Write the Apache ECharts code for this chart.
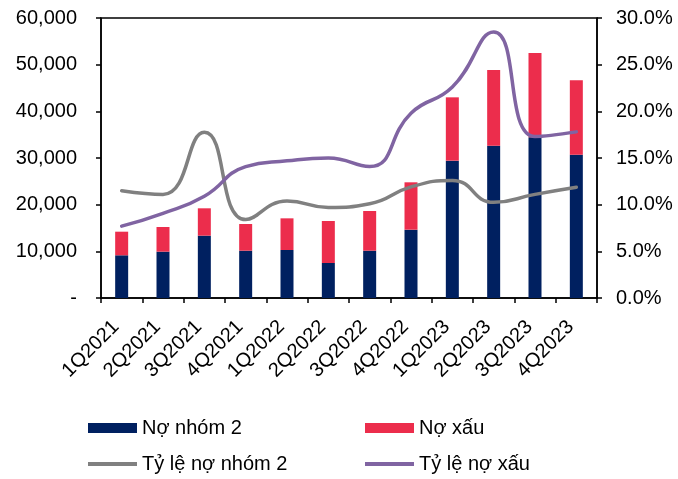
<!DOCTYPE html>
<html>
<head>
<meta charset="utf-8">
<script src="https://cdn.jsdelivr.net/npm/echarts@6/dist/echarts.min.js"></script>
<style>
  html, body { margin: 0; padding: 0; background: #fff; }
  #chart { width: 678px; height: 479px; }
</style>
</head>
<body>
<div id="chart"></div>
<script>
// quý
const categories = ['1Q2021', '2Q2021', '3Q2021', '4Q2021', '1Q2022', '2Q2022',
  '3Q2022', '4Q2022', '1Q2023', '2Q2023', '3Q2023', '4Q2023'];
// nợ nhóm 2 (cột dưới)
const noNhom2 = [9150, 9930, 13360, 10140, 10290, 7500, 10140, 14640, 29430, 32640, 34430, 30710];
// nợ xấu (cột trên, xếp chồng)
const noXau = [5060, 5285, 5860, 5720, 6780, 9000, 8500, 10150, 13570, 16220, 18070, 15930];
// tỷ lệ (%)
const tyLeNhom2 = [11.5, 11.1, 17.75, 8.4, 10.4, 9.7, 10.1, 11.9, 12.6, 10.25, 11.1, 11.86];
const tyLeXau = [7.7, 9.07, 10.9, 14.07, 14.7, 15.0, 14.1, 19.8, 22.6, 28.5, 17.3, 17.8];

const FONT = 'Liberation Sans';
const lineIcon = 'path://M0,0 L49,0 L49,4 L0,4 Z';

function legendAt(left, top, name, icon) {
  return {
    left: left, top: top, padding: 0,
    itemWidth: 49, itemHeight: 10,
    textStyle: { fontFamily: FONT, fontSize: 20, color: '#000' },
    data: [{ name: name, icon: icon }]
  };
}

let myChart = echarts.init(document.getElementById('chart'));
myChart.setOption({
  animation: false,
  textStyle: { fontFamily: FONT, color: '#000' },
  grid: {
    left: 101, right: 81, top: 18, bottom: 181,
    show: true, borderColor: '#000', borderWidth: 1.5
  },
  legend: [
    legendAt(88, 418, 'Nợ nhóm 2', 'rect'),
    legendAt(365, 418, 'Nợ xấu', 'rect'),
    legendAt(88, 454, 'Tỷ lệ nợ nhóm 2', lineIcon),
    legendAt(365, 454, 'Tỷ lệ nợ xấu', lineIcon)
  ],
  xAxis: {
    type: 'category',
    data: categories,
    axisLine: { lineStyle: { color: '#000', width: 1.5 } },
    axisTick: { show: true, length: 5, lineStyle: { color: '#000', width: 1.5 } },
    axisLabel: {
      rotate: 45, fontSize: 20, color: '#000', fontFamily: FONT,
      margin: 20, interval: 0, padding: [0, 8, 0, 0]
    }
  },
  yAxis: [
    {
      type: 'value', min: 0, max: 60000, interval: 10000,
      splitLine: { show: false },
      axisLine: { show: true, lineStyle: { color: '#000', width: 1.5 } },
      axisTick: { show: true, length: 5, lineStyle: { color: '#000', width: 1.5 } },
      axisLabel: {
        fontSize: 20, color: '#000', fontFamily: FONT, margin: 24,
        formatter: v => v === 0 ? '-' : v.toLocaleString('en-US')
      }
    },
    {
      type: 'value', min: 0, max: 30, interval: 5,
      splitLine: { show: false },
      axisLine: { show: true, lineStyle: { color: '#000', width: 1.5 } },
      axisTick: { show: true, length: 5, lineStyle: { color: '#000', width: 1.5 } },
      axisLabel: {
        fontSize: 20, color: '#000', fontFamily: FONT, margin: 19,
        formatter: v => v.toFixed(1) + '%'
      }
    }
  ],
  series: [
    {
      name: 'Nợ nhóm 2', type: 'bar', stack: 'no', data: noNhom2,
      barWidth: 13, color: '#002060', itemStyle: { color: '#002060' }
    },
    {
      name: 'Nợ xấu', type: 'bar', stack: 'no', data: noXau,
      barWidth: 13, color: '#EC2D4C', itemStyle: { color: '#EC2D4C' }
    },
    {
      name: 'Tỷ lệ nợ nhóm 2', type: 'line', yAxisIndex: 1, data: tyLeNhom2,
      smooth: 0.5, showSymbol: false, color: '#808080',
      lineStyle: { color: '#808080', width: 3.5, cap: 'round' }
    },
    {
      name: 'Tỷ lệ nợ xấu', type: 'line', yAxisIndex: 1, data: tyLeXau,
      smooth: 0.5, showSymbol: false, color: '#8064A2',
      lineStyle: { color: '#8064A2', width: 3.5, cap: 'round' }
    }
  ]
});
</script>
</body>
</html>
